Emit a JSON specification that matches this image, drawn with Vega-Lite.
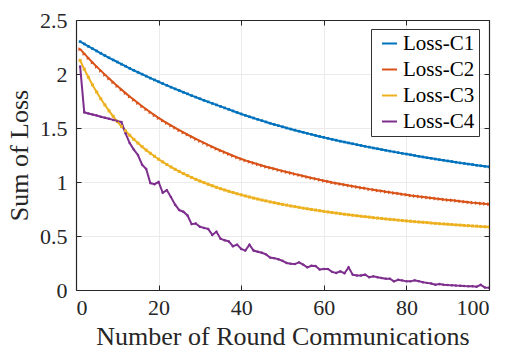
{
"$schema": "https://vega.github.io/schema/vega-lite/v6.json",
"width": 413, "height": 270,
"autosize": "none",
"padding": {"left": 76, "top": 20, "right": 22, "bottom": 60},
"background": "white",
"config": {"font": "Liberation Serif", "view": {"stroke": null},
 "axis": {"labelFont": "Liberation Serif", "titleFont": "Liberation Serif"},
 "legend": {"labelFont": "Liberation Serif"}},
"data": {"values": [
{"x":1,"s":"Loss-C1","y":2.300},{"x":2,"s":"Loss-C1","y":2.278},{"x":3,"s":"Loss-C1","y":2.256},{"x":4,"s":"Loss-C1","y":2.234},{"x":5,"s":"Loss-C1","y":2.213},{"x":6,"s":"Loss-C1","y":2.192},{"x":7,"s":"Loss-C1","y":2.171},{"x":8,"s":"Loss-C1","y":2.150},{"x":9,"s":"Loss-C1","y":2.130},{"x":10,"s":"Loss-C1","y":2.111},
{"x":11,"s":"Loss-C1","y":2.091},{"x":12,"s":"Loss-C1","y":2.072},{"x":13,"s":"Loss-C1","y":2.053},{"x":14,"s":"Loss-C1","y":2.034},{"x":15,"s":"Loss-C1","y":2.016},{"x":16,"s":"Loss-C1","y":1.998},{"x":17,"s":"Loss-C1","y":1.980},{"x":18,"s":"Loss-C1","y":1.962},{"x":19,"s":"Loss-C1","y":1.945},{"x":20,"s":"Loss-C1","y":1.928},
{"x":21,"s":"Loss-C1","y":1.911},{"x":22,"s":"Loss-C1","y":1.895},{"x":23,"s":"Loss-C1","y":1.878},{"x":24,"s":"Loss-C1","y":1.862},{"x":25,"s":"Loss-C1","y":1.847},{"x":26,"s":"Loss-C1","y":1.831},{"x":27,"s":"Loss-C1","y":1.816},{"x":28,"s":"Loss-C1","y":1.800},{"x":29,"s":"Loss-C1","y":1.786},{"x":30,"s":"Loss-C1","y":1.771},
{"x":31,"s":"Loss-C1","y":1.756},{"x":32,"s":"Loss-C1","y":1.742},{"x":33,"s":"Loss-C1","y":1.728},{"x":34,"s":"Loss-C1","y":1.714},{"x":35,"s":"Loss-C1","y":1.700},{"x":36,"s":"Loss-C1","y":1.686},{"x":37,"s":"Loss-C1","y":1.672},{"x":38,"s":"Loss-C1","y":1.658},{"x":39,"s":"Loss-C1","y":1.644},{"x":40,"s":"Loss-C1","y":1.630},
{"x":41,"s":"Loss-C1","y":1.617},{"x":42,"s":"Loss-C1","y":1.604},{"x":43,"s":"Loss-C1","y":1.592},{"x":44,"s":"Loss-C1","y":1.580},{"x":45,"s":"Loss-C1","y":1.568},{"x":46,"s":"Loss-C1","y":1.556},{"x":47,"s":"Loss-C1","y":1.544},{"x":48,"s":"Loss-C1","y":1.533},{"x":49,"s":"Loss-C1","y":1.522},{"x":50,"s":"Loss-C1","y":1.511},
{"x":51,"s":"Loss-C1","y":1.500},{"x":52,"s":"Loss-C1","y":1.490},{"x":53,"s":"Loss-C1","y":1.480},{"x":54,"s":"Loss-C1","y":1.470},{"x":55,"s":"Loss-C1","y":1.460},{"x":56,"s":"Loss-C1","y":1.450},{"x":57,"s":"Loss-C1","y":1.441},{"x":58,"s":"Loss-C1","y":1.431},{"x":59,"s":"Loss-C1","y":1.422},{"x":60,"s":"Loss-C1","y":1.413},
{"x":61,"s":"Loss-C1","y":1.404},{"x":62,"s":"Loss-C1","y":1.395},{"x":63,"s":"Loss-C1","y":1.387},{"x":64,"s":"Loss-C1","y":1.378},{"x":65,"s":"Loss-C1","y":1.370},{"x":66,"s":"Loss-C1","y":1.362},{"x":67,"s":"Loss-C1","y":1.354},{"x":68,"s":"Loss-C1","y":1.346},{"x":69,"s":"Loss-C1","y":1.338},{"x":70,"s":"Loss-C1","y":1.330},
{"x":71,"s":"Loss-C1","y":1.323},{"x":72,"s":"Loss-C1","y":1.315},{"x":73,"s":"Loss-C1","y":1.308},{"x":74,"s":"Loss-C1","y":1.300},{"x":75,"s":"Loss-C1","y":1.293},{"x":76,"s":"Loss-C1","y":1.286},{"x":77,"s":"Loss-C1","y":1.279},{"x":78,"s":"Loss-C1","y":1.272},{"x":79,"s":"Loss-C1","y":1.265},{"x":80,"s":"Loss-C1","y":1.259},
{"x":81,"s":"Loss-C1","y":1.252},{"x":82,"s":"Loss-C1","y":1.245},{"x":83,"s":"Loss-C1","y":1.238},{"x":84,"s":"Loss-C1","y":1.232},{"x":85,"s":"Loss-C1","y":1.225},{"x":86,"s":"Loss-C1","y":1.219},{"x":87,"s":"Loss-C1","y":1.213},{"x":88,"s":"Loss-C1","y":1.207},{"x":89,"s":"Loss-C1","y":1.201},{"x":90,"s":"Loss-C1","y":1.195},
{"x":91,"s":"Loss-C1","y":1.189},{"x":92,"s":"Loss-C1","y":1.183},{"x":93,"s":"Loss-C1","y":1.177},{"x":94,"s":"Loss-C1","y":1.172},{"x":95,"s":"Loss-C1","y":1.166},{"x":96,"s":"Loss-C1","y":1.161},{"x":97,"s":"Loss-C1","y":1.155},{"x":98,"s":"Loss-C1","y":1.150},{"x":99,"s":"Loss-C1","y":1.145},{"x":100,"s":"Loss-C1","y":1.140},
{"x":1,"s":"Loss-C2","y":2.230},{"x":2,"s":"Loss-C2","y":2.188},{"x":3,"s":"Loss-C2","y":2.147},{"x":4,"s":"Loss-C2","y":2.107},{"x":5,"s":"Loss-C2","y":2.068},{"x":6,"s":"Loss-C2","y":2.031},{"x":7,"s":"Loss-C2","y":1.994},{"x":8,"s":"Loss-C2","y":1.958},{"x":9,"s":"Loss-C2","y":1.923},{"x":10,"s":"Loss-C2","y":1.889},
{"x":11,"s":"Loss-C2","y":1.856},{"x":12,"s":"Loss-C2","y":1.823},{"x":13,"s":"Loss-C2","y":1.792},{"x":14,"s":"Loss-C2","y":1.761},{"x":15,"s":"Loss-C2","y":1.731},{"x":16,"s":"Loss-C2","y":1.702},{"x":17,"s":"Loss-C2","y":1.674},{"x":18,"s":"Loss-C2","y":1.646},{"x":19,"s":"Loss-C2","y":1.619},{"x":20,"s":"Loss-C2","y":1.593},
{"x":21,"s":"Loss-C2","y":1.569},{"x":22,"s":"Loss-C2","y":1.546},{"x":23,"s":"Loss-C2","y":1.524},{"x":24,"s":"Loss-C2","y":1.502},{"x":25,"s":"Loss-C2","y":1.480},{"x":26,"s":"Loss-C2","y":1.459},{"x":27,"s":"Loss-C2","y":1.439},{"x":28,"s":"Loss-C2","y":1.419},{"x":29,"s":"Loss-C2","y":1.399},{"x":30,"s":"Loss-C2","y":1.380},
{"x":31,"s":"Loss-C2","y":1.362},{"x":32,"s":"Loss-C2","y":1.343},{"x":33,"s":"Loss-C2","y":1.326},{"x":34,"s":"Loss-C2","y":1.308},{"x":35,"s":"Loss-C2","y":1.292},{"x":36,"s":"Loss-C2","y":1.275},{"x":37,"s":"Loss-C2","y":1.259},{"x":38,"s":"Loss-C2","y":1.243},{"x":39,"s":"Loss-C2","y":1.228},{"x":40,"s":"Loss-C2","y":1.213},
{"x":41,"s":"Loss-C2","y":1.200},{"x":42,"s":"Loss-C2","y":1.188},{"x":43,"s":"Loss-C2","y":1.176},{"x":44,"s":"Loss-C2","y":1.164},{"x":45,"s":"Loss-C2","y":1.153},{"x":46,"s":"Loss-C2","y":1.142},{"x":47,"s":"Loss-C2","y":1.132},{"x":48,"s":"Loss-C2","y":1.122},{"x":49,"s":"Loss-C2","y":1.112},{"x":50,"s":"Loss-C2","y":1.102},
{"x":51,"s":"Loss-C2","y":1.093},{"x":52,"s":"Loss-C2","y":1.083},{"x":53,"s":"Loss-C2","y":1.073},{"x":54,"s":"Loss-C2","y":1.064},{"x":55,"s":"Loss-C2","y":1.055},{"x":56,"s":"Loss-C2","y":1.046},{"x":57,"s":"Loss-C2","y":1.037},{"x":58,"s":"Loss-C2","y":1.029},{"x":59,"s":"Loss-C2","y":1.020},{"x":60,"s":"Loss-C2","y":1.012},
{"x":61,"s":"Loss-C2","y":1.004},{"x":62,"s":"Loss-C2","y":0.996},{"x":63,"s":"Loss-C2","y":0.989},{"x":64,"s":"Loss-C2","y":0.982},{"x":65,"s":"Loss-C2","y":0.975},{"x":66,"s":"Loss-C2","y":0.967},{"x":67,"s":"Loss-C2","y":0.961},{"x":68,"s":"Loss-C2","y":0.954},{"x":69,"s":"Loss-C2","y":0.947},{"x":70,"s":"Loss-C2","y":0.941},
{"x":71,"s":"Loss-C2","y":0.934},{"x":72,"s":"Loss-C2","y":0.928},{"x":73,"s":"Loss-C2","y":0.922},{"x":74,"s":"Loss-C2","y":0.916},{"x":75,"s":"Loss-C2","y":0.910},{"x":76,"s":"Loss-C2","y":0.904},{"x":77,"s":"Loss-C2","y":0.898},{"x":78,"s":"Loss-C2","y":0.893},{"x":79,"s":"Loss-C2","y":0.887},{"x":80,"s":"Loss-C2","y":0.882},
{"x":81,"s":"Loss-C2","y":0.876},{"x":82,"s":"Loss-C2","y":0.871},{"x":83,"s":"Loss-C2","y":0.866},{"x":84,"s":"Loss-C2","y":0.862},{"x":85,"s":"Loss-C2","y":0.857},{"x":86,"s":"Loss-C2","y":0.852},{"x":87,"s":"Loss-C2","y":0.847},{"x":88,"s":"Loss-C2","y":0.843},{"x":89,"s":"Loss-C2","y":0.838},{"x":90,"s":"Loss-C2","y":0.834},
{"x":91,"s":"Loss-C2","y":0.830},{"x":92,"s":"Loss-C2","y":0.826},{"x":93,"s":"Loss-C2","y":0.821},{"x":94,"s":"Loss-C2","y":0.817},{"x":95,"s":"Loss-C2","y":0.813},{"x":96,"s":"Loss-C2","y":0.809},{"x":97,"s":"Loss-C2","y":0.806},{"x":98,"s":"Loss-C2","y":0.802},{"x":99,"s":"Loss-C2","y":0.798},{"x":100,"s":"Loss-C2","y":0.795},
{"x":1,"s":"Loss-C3","y":2.126},{"x":2,"s":"Loss-C3","y":2.045},{"x":3,"s":"Loss-C3","y":1.970},{"x":4,"s":"Loss-C3","y":1.899},{"x":5,"s":"Loss-C3","y":1.833},{"x":6,"s":"Loss-C3","y":1.771},{"x":7,"s":"Loss-C3","y":1.713},{"x":8,"s":"Loss-C3","y":1.659},{"x":9,"s":"Loss-C3","y":1.608},{"x":10,"s":"Loss-C3","y":1.560},
{"x":11,"s":"Loss-C3","y":1.515},{"x":12,"s":"Loss-C3","y":1.473},{"x":13,"s":"Loss-C3","y":1.433},{"x":14,"s":"Loss-C3","y":1.395},{"x":15,"s":"Loss-C3","y":1.360},{"x":16,"s":"Loss-C3","y":1.327},{"x":17,"s":"Loss-C3","y":1.295},{"x":18,"s":"Loss-C3","y":1.266},{"x":19,"s":"Loss-C3","y":1.238},{"x":20,"s":"Loss-C3","y":1.211},
{"x":21,"s":"Loss-C3","y":1.186},{"x":22,"s":"Loss-C3","y":1.162},{"x":23,"s":"Loss-C3","y":1.139},{"x":24,"s":"Loss-C3","y":1.118},{"x":25,"s":"Loss-C3","y":1.098},{"x":26,"s":"Loss-C3","y":1.078},{"x":27,"s":"Loss-C3","y":1.060},{"x":28,"s":"Loss-C3","y":1.042},{"x":29,"s":"Loss-C3","y":1.025},{"x":30,"s":"Loss-C3","y":1.009},
{"x":31,"s":"Loss-C3","y":0.994},{"x":32,"s":"Loss-C3","y":0.979},{"x":33,"s":"Loss-C3","y":0.965},{"x":34,"s":"Loss-C3","y":0.951},{"x":35,"s":"Loss-C3","y":0.938},{"x":36,"s":"Loss-C3","y":0.926},{"x":37,"s":"Loss-C3","y":0.914},{"x":38,"s":"Loss-C3","y":0.903},{"x":39,"s":"Loss-C3","y":0.891},{"x":40,"s":"Loss-C3","y":0.881},
{"x":41,"s":"Loss-C3","y":0.871},{"x":42,"s":"Loss-C3","y":0.861},{"x":43,"s":"Loss-C3","y":0.851},{"x":44,"s":"Loss-C3","y":0.842},{"x":45,"s":"Loss-C3","y":0.833},{"x":46,"s":"Loss-C3","y":0.825},{"x":47,"s":"Loss-C3","y":0.816},{"x":48,"s":"Loss-C3","y":0.808},{"x":49,"s":"Loss-C3","y":0.800},{"x":50,"s":"Loss-C3","y":0.793},
{"x":51,"s":"Loss-C3","y":0.786},{"x":52,"s":"Loss-C3","y":0.778},{"x":53,"s":"Loss-C3","y":0.772},{"x":54,"s":"Loss-C3","y":0.765},{"x":55,"s":"Loss-C3","y":0.758},{"x":56,"s":"Loss-C3","y":0.752},{"x":57,"s":"Loss-C3","y":0.746},{"x":58,"s":"Loss-C3","y":0.740},{"x":59,"s":"Loss-C3","y":0.734},{"x":60,"s":"Loss-C3","y":0.728},
{"x":61,"s":"Loss-C3","y":0.723},{"x":62,"s":"Loss-C3","y":0.717},{"x":63,"s":"Loss-C3","y":0.712},{"x":64,"s":"Loss-C3","y":0.707},{"x":65,"s":"Loss-C3","y":0.702},{"x":66,"s":"Loss-C3","y":0.697},{"x":67,"s":"Loss-C3","y":0.692},{"x":68,"s":"Loss-C3","y":0.688},{"x":69,"s":"Loss-C3","y":0.683},{"x":70,"s":"Loss-C3","y":0.679},
{"x":71,"s":"Loss-C3","y":0.675},{"x":72,"s":"Loss-C3","y":0.670},{"x":73,"s":"Loss-C3","y":0.666},{"x":74,"s":"Loss-C3","y":0.662},{"x":75,"s":"Loss-C3","y":0.658},{"x":76,"s":"Loss-C3","y":0.654},{"x":77,"s":"Loss-C3","y":0.651},{"x":78,"s":"Loss-C3","y":0.647},{"x":79,"s":"Loss-C3","y":0.643},{"x":80,"s":"Loss-C3","y":0.640},
{"x":81,"s":"Loss-C3","y":0.637},{"x":82,"s":"Loss-C3","y":0.633},{"x":83,"s":"Loss-C3","y":0.630},{"x":84,"s":"Loss-C3","y":0.627},{"x":85,"s":"Loss-C3","y":0.624},{"x":86,"s":"Loss-C3","y":0.620},{"x":87,"s":"Loss-C3","y":0.617},{"x":88,"s":"Loss-C3","y":0.614},{"x":89,"s":"Loss-C3","y":0.612},{"x":90,"s":"Loss-C3","y":0.609},
{"x":91,"s":"Loss-C3","y":0.606},{"x":92,"s":"Loss-C3","y":0.603},{"x":93,"s":"Loss-C3","y":0.601},{"x":94,"s":"Loss-C3","y":0.598},{"x":95,"s":"Loss-C3","y":0.596},{"x":96,"s":"Loss-C3","y":0.593},{"x":97,"s":"Loss-C3","y":0.591},{"x":98,"s":"Loss-C3","y":0.588},{"x":99,"s":"Loss-C3","y":0.586},{"x":100,"s":"Loss-C3","y":0.584},
{"x":1,"s":"Loss-C4","y":2.07},{"x":2,"s":"Loss-C4","y":1.645},{"x":3,"s":"Loss-C4","y":1.635},{"x":4,"s":"Loss-C4","y":1.625},{"x":5,"s":"Loss-C4","y":1.615},{"x":6,"s":"Loss-C4","y":1.605},{"x":7,"s":"Loss-C4","y":1.595},{"x":8,"s":"Loss-C4","y":1.585},{"x":9,"s":"Loss-C4","y":1.575},{"x":10,"s":"Loss-C4","y":1.565},
{"x":11,"s":"Loss-C4","y":1.555},{"x":12,"s":"Loss-C4","y":1.45},{"x":13,"s":"Loss-C4","y":1.36},{"x":14,"s":"Loss-C4","y":1.30},{"x":15,"s":"Loss-C4","y":1.25},{"x":16,"s":"Loss-C4","y":1.16},{"x":17,"s":"Loss-C4","y":1.12},{"x":18,"s":"Loss-C4","y":0.99},{"x":19,"s":"Loss-C4","y":0.98},{"x":20,"s":"Loss-C4","y":1.0},
{"x":21,"s":"Loss-C4","y":0.90},{"x":22,"s":"Loss-C4","y":0.925},{"x":23,"s":"Loss-C4","y":0.86},{"x":24,"s":"Loss-C4","y":0.79},{"x":25,"s":"Loss-C4","y":0.74},{"x":26,"s":"Loss-C4","y":0.725},{"x":27,"s":"Loss-C4","y":0.69},{"x":28,"s":"Loss-C4","y":0.61},{"x":29,"s":"Loss-C4","y":0.615},{"x":30,"s":"Loss-C4","y":0.585},
{"x":31,"s":"Loss-C4","y":0.575},{"x":32,"s":"Loss-C4","y":0.565},{"x":33,"s":"Loss-C4","y":0.51},{"x":34,"s":"Loss-C4","y":0.54},{"x":35,"s":"Loss-C4","y":0.475},{"x":36,"s":"Loss-C4","y":0.46},{"x":37,"s":"Loss-C4","y":0.45},{"x":38,"s":"Loss-C4","y":0.405},{"x":39,"s":"Loss-C4","y":0.42},{"x":40,"s":"Loss-C4","y":0.38},
{"x":41,"s":"Loss-C4","y":0.365},{"x":42,"s":"Loss-C4","y":0.42},{"x":43,"s":"Loss-C4","y":0.365},{"x":44,"s":"Loss-C4","y":0.355},{"x":45,"s":"Loss-C4","y":0.345},{"x":46,"s":"Loss-C4","y":0.33},{"x":47,"s":"Loss-C4","y":0.30},{"x":48,"s":"Loss-C4","y":0.295},{"x":49,"s":"Loss-C4","y":0.285},{"x":50,"s":"Loss-C4","y":0.27},
{"x":51,"s":"Loss-C4","y":0.25},{"x":52,"s":"Loss-C4","y":0.243},{"x":53,"s":"Loss-C4","y":0.24},{"x":54,"s":"Loss-C4","y":0.256},{"x":55,"s":"Loss-C4","y":0.235},{"x":56,"s":"Loss-C4","y":0.21},{"x":57,"s":"Loss-C4","y":0.225},{"x":58,"s":"Loss-C4","y":0.222},{"x":59,"s":"Loss-C4","y":0.19},{"x":60,"s":"Loss-C4","y":0.194},
{"x":61,"s":"Loss-C4","y":0.195},{"x":62,"s":"Loss-C4","y":0.168},{"x":63,"s":"Loss-C4","y":0.158},{"x":64,"s":"Loss-C4","y":0.172},{"x":65,"s":"Loss-C4","y":0.155},{"x":66,"s":"Loss-C4","y":0.21},{"x":67,"s":"Loss-C4","y":0.142},{"x":68,"s":"Loss-C4","y":0.135},{"x":69,"s":"Loss-C4","y":0.134},{"x":70,"s":"Loss-C4","y":0.142},
{"x":71,"s":"Loss-C4","y":0.118},{"x":72,"s":"Loss-C4","y":0.126},{"x":73,"s":"Loss-C4","y":0.118},{"x":74,"s":"Loss-C4","y":0.112},{"x":75,"s":"Loss-C4","y":0.104},{"x":76,"s":"Loss-C4","y":0.105},{"x":77,"s":"Loss-C4","y":0.08},{"x":78,"s":"Loss-C4","y":0.095},{"x":79,"s":"Loss-C4","y":0.089},{"x":80,"s":"Loss-C4","y":0.08},
{"x":81,"s":"Loss-C4","y":0.08},{"x":82,"s":"Loss-C4","y":0.089},{"x":83,"s":"Loss-C4","y":0.082},{"x":84,"s":"Loss-C4","y":0.072},{"x":85,"s":"Loss-C4","y":0.066},{"x":86,"s":"Loss-C4","y":0.06},{"x":87,"s":"Loss-C4","y":0.049},{"x":88,"s":"Loss-C4","y":0.056},{"x":89,"s":"Loss-C4","y":0.049},{"x":90,"s":"Loss-C4","y":0.046},
{"x":91,"s":"Loss-C4","y":0.044},{"x":92,"s":"Loss-C4","y":0.041},{"x":93,"s":"Loss-C4","y":0.04},{"x":94,"s":"Loss-C4","y":0.037},{"x":95,"s":"Loss-C4","y":0.035},{"x":96,"s":"Loss-C4","y":0.034},{"x":97,"s":"Loss-C4","y":0.03},{"x":98,"s":"Loss-C4","y":0.048},{"x":99,"s":"Loss-C4","y":0.024},{"x":100,"s":"Loss-C4","y":0.02}
]},
"layer": [
{"mark": {"type": "line", "strokeWidth": 2, "clip": true},
 "encoding": {
  "x": {"field": "x", "type": "quantitative", "scale": {"domain": [0, 100], "nice": false},
   "axis": {"title": "Number of Round Communications", "values": [0,20,40,60,80,100], "grid": true, "gridColor": "#ebebeb", "gridWidth": 1,
    "domainColor": "#262626", "domainWidth": 1.2, "tickColor": "#262626", "tickSize": -5, "labelFontSize": 22, "labelColor": "#262626", "labelPadding": 12,
    "titleFontSize": 26, "titleFontWeight": "normal", "titleColor": "#262626", "titlePadding": 5}},
  "y": {"field": "y", "type": "quantitative", "scale": {"domain": [0, 2.5], "nice": false, "zero": false},
   "axis": {"title": "Sum of Loss", "values": [0,0.5,1,1.5,2,2.5], "format": "~g", "grid": true, "gridColor": "#ebebeb", "gridWidth": 1,
    "domainColor": "#262626", "domainWidth": 1.2, "tickColor": "#262626", "tickSize": -5, "labelFontSize": 22, "labelColor": "#262626", "labelPadding": 14,
    "titleFontSize": 26, "titleFontWeight": "normal", "titleColor": "#262626", "titlePadding": 7}},
  "color": {"field": "s", "type": "nominal",
   "scale": {"domain": ["Loss-C1","Loss-C2","Loss-C3","Loss-C4"], "range": ["#0072BD","#D95319","#EDB120","#7E2F8E"]},
   "legend": {"title": null, "orient": "none", "legendX": 295, "legendY": 9, "symbolType": "stroke", "symbolStrokeWidth": 2, "symbolSize": 225, "symbolOffset": 4,
    "labelFontSize": 21, "labelColor": "#000000", "fillColor": "white", "strokeColor": "#333333", "padding": 4, "rowPadding": 4, "labelOffset": 3}}
 }},
{"transform": [{"filter": "datum.s === 'Loss-C1'"}],
 "mark": {"type": "point", "filled": true, "opacity": 1, "shape": "square", "size": 7, "clip": true},
 "encoding": {
  "x": {"field": "x", "type": "quantitative", "scale": {"domain": [0, 100], "nice": false},
   "axis": {"orient": "top", "title": null, "labels": false, "values": [0,20,40,60,80,100], "grid": false, "domainColor": "#262626", "domainWidth": 1.2, "tickColor": "#262626", "tickSize": -5}},
  "y": {"field": "y", "type": "quantitative", "scale": {"domain": [0, 2.5], "nice": false, "zero": false},
   "axis": {"orient": "right", "title": null, "labels": false, "values": [0,0.5,1,1.5,2,2.5], "grid": false, "domainColor": "#262626", "domainWidth": 1.2, "tickColor": "#262626", "tickSize": -5}},
  "color": {"field": "s", "type": "nominal", "legend": null}
 }},
{"transform": [{"filter": "datum.s === 'Loss-C2'"}],
 "mark": {"type": "point", "filled": true, "opacity": 1, "shape": "triangle-right", "size": 16, "clip": true},
 "encoding": {
  "x": {"field": "x", "type": "quantitative", "axis": null},
  "y": {"field": "y", "type": "quantitative", "axis": null},
  "color": {"field": "s", "type": "nominal", "legend": null}
 }},
{"transform": [{"filter": "datum.s === 'Loss-C3'"}],
 "mark": {"type": "point", "filled": true, "opacity": 1, "shape": "square", "size": 9, "clip": true},
 "encoding": {
  "x": {"field": "x", "type": "quantitative", "axis": null},
  "y": {"field": "y", "type": "quantitative", "axis": null},
  "color": {"field": "s", "type": "nominal", "legend": null}
 }},
{"transform": [{"filter": "datum.s === 'Loss-C4'"}],
 "mark": {"type": "point", "filled": true, "opacity": 1, "shape": "circle", "size": 6, "clip": true},
 "encoding": {
  "x": {"field": "x", "type": "quantitative", "axis": null},
  "y": {"field": "y", "type": "quantitative", "axis": null},
  "color": {"field": "s", "type": "nominal", "legend": null}
 }}
],
"resolve": {"axis": {"x": "independent", "y": "independent"}}
}
